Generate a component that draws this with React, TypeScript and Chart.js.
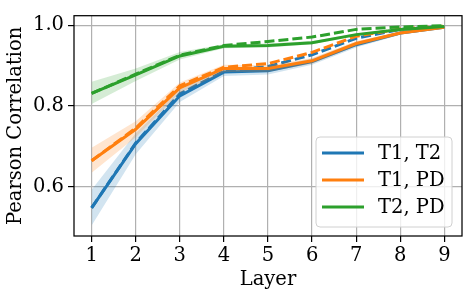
import React, { useEffect, useRef } from "react";
import { Chart, registerables } from "chart.js";

Chart.register(...registerables);

const layers = [1, 2, 3, 4, 5, 6, 7, 8, 9];
const yTicks = [0.6, 0.8, 1.0];

const t1t2Mean = [0.547, 0.706, 0.825, 0.884, 0.887, 0.910, 0.952, 0.981, 0.995];
const t1t2Lower = [0.503, 0.680, 0.810, 0.874, 0.878, 0.902, 0.945, 0.977, 0.993];
const t1t2Upper = [0.592, 0.732, 0.840, 0.894, 0.896, 0.918, 0.959, 0.985, 0.997];
const t1t2Dashed = [0.547, 0.708, 0.830, 0.886, 0.898, 0.927, 0.968, 0.990, 0.998];

const t1pdMean = [0.664, 0.742, 0.845, 0.893, 0.893, 0.912, 0.955, 0.981, 0.995];
const t1pdLower = [0.634, 0.722, 0.832, 0.884, 0.885, 0.905, 0.949, 0.977, 0.993];
const t1pdUpper = [0.696, 0.762, 0.858, 0.902, 0.901, 0.919, 0.961, 0.985, 0.997];
const t1pdDashed = [0.664, 0.745, 0.850, 0.896, 0.905, 0.933, 0.973, 0.991, 0.998];

const t2pdMean = [0.831, 0.877, 0.924, 0.948, 0.950, 0.957, 0.977, 0.990, 0.997];
const t2pdLower = [0.805, 0.862, 0.915, 0.943, 0.945, 0.953, 0.974, 0.988, 0.996];
const t2pdUpper = [0.860, 0.893, 0.934, 0.953, 0.955, 0.961, 0.980, 0.992, 0.998];
const t2pdDashed = [0.831, 0.879, 0.926, 0.950, 0.960, 0.971, 0.990, 0.996, 0.999];

const seriesLabels = ["T1, T2", "T1, PD", "T2, PD"];
const colors = ["#1f77b4", "#ff7f0e", "#2ca02c"];
const bandColors = ["rgba(31,119,180,0.2)", "rgba(255,127,14,0.2)", "rgba(44,160,44,0.2)"];

const FONT = "'DejaVu Serif', serif";
const FS = 19.5;

const pts = (ys: number[]) => layers.map((x, i) => ({ x, y: ys[i] }));

export default function App() {
  const ref = useRef<HTMLCanvasElement | null>(null);

  useEffect(() => {
    document.body.style.margin = "0";
    const canvas = ref.current;
    if (!canvas) return;

    const means = [t1t2Mean, t1pdMean, t2pdMean];
    const lowers = [t1t2Lower, t1pdLower, t2pdLower];
    const uppers = [t1t2Upper, t1pdUpper, t2pdUpper];
    const dashed = [t1t2Dashed, t1pdDashed, t2pdDashed];

    const datasets: any[] = [];
    for (let i = 0; i < 3; i++) {
      const base = 100 - i * 10;
      datasets.push({
        label: "_lower" + i,
        data: pts(lowers[i]),
        borderWidth: 0,
        pointRadius: 0,
        fill: false,
        order: base + 5,
        borderColor: "rgba(0,0,0,0)",
      });
      datasets.push({
        label: "_upper" + i,
        data: pts(uppers[i]),
        borderWidth: 0,
        pointRadius: 0,
        fill: "-1",
        backgroundColor: bandColors[i],
        borderColor: "rgba(0,0,0,0)",
        order: base + 4,
      });
      datasets.push({
        label: seriesLabels[i],
        data: pts(means[i]),
        borderColor: colors[i],
        borderWidth: 3,
        pointRadius: 0,
        fill: false,
        order: base + 2,
      });
      datasets.push({
        label: "_dashed" + i,
        data: pts(dashed[i]),
        borderColor: colors[i],
        borderWidth: 3,
        borderDash: [10, 4],
        pointRadius: 0,
        fill: false,
        order: base + 1,
      });
    }

    const framePlugin = {
      id: "frame",
      afterDatasetsDraw(chart: any) {
        const { ctx, chartArea: a } = chart;
        ctx.save();
        ctx.strokeStyle = "#000";
        ctx.lineWidth = 1.25;
        ctx.strokeRect(a.left, a.top, a.right - a.left, a.bottom - a.top);
        ctx.restore();
      },
    };

    const legendPlugin = {
      id: "boxLegend",
      afterDraw(chart: any) {
        const { ctx } = chart;
        const x0 = 316, y0 = 137, w = 136, h = 90, r = 4;
        ctx.save();
        ctx.beginPath();
        ctx.moveTo(x0 + r, y0);
        ctx.lineTo(x0 + w - r, y0);
        ctx.quadraticCurveTo(x0 + w, y0, x0 + w, y0 + r);
        ctx.lineTo(x0 + w, y0 + h - r);
        ctx.quadraticCurveTo(x0 + w, y0 + h, x0 + w - r, y0 + h);
        ctx.lineTo(x0 + r, y0 + h);
        ctx.quadraticCurveTo(x0, y0 + h, x0, y0 + h - r);
        ctx.lineTo(x0, y0 + r);
        ctx.quadraticCurveTo(x0, y0, x0 + r, y0);
        ctx.closePath();
        ctx.fillStyle = "rgba(255,255,255,0.8)";
        ctx.fill();
        ctx.strokeStyle = "#d0d0d0";
        ctx.lineWidth = 1;
        ctx.stroke();
        ctx.font = FS + "px " + FONT;
        ctx.textBaseline = "middle";
        ctx.textAlign = "left";
        for (let i = 0; i < seriesLabels.length; i++) {
          const yy = y0 + 16 + i * 27;
          ctx.strokeStyle = colors[i];
          ctx.lineWidth = 3;
          ctx.beginPath();
          ctx.moveTo(322, yy);
          ctx.lineTo(364, yy);
          ctx.stroke();
          ctx.fillStyle = "#000";
          ctx.fillText(seriesLabels[i], 378, yy + 1);
        }
        ctx.restore();
      },
    };

    const chart = new Chart(canvas, {
      type: "line",
      data: { datasets },
      options: {
        animation: false,
        responsive: false,
        maintainAspectRatio: false,
        layout: { padding: { left: 0, right: 9, top: 9, bottom: 0 } },
        plugins: {
          legend: { display: false },
          tooltip: { enabled: false },
        },
        scales: {
          x: {
            type: "linear",
            min: 0.6,
            max: 9.4,
            afterBuildTicks: (s: any) => {
              s.ticks = layers.map((v) => ({ value: v }));
            },
            afterFit: (s: any) => {
              s.height = 61;
            },
            ticks: {
              color: "#000",
              font: { family: FONT, size: FS },
              padding: 2,
              maxRotation: 0,
              autoSkip: false,
              callback: (v: any) => String(v),
            },
            grid: {
              color: "#b0b0b0",
              lineWidth: 1.2,
              tickColor: "#000",
              tickLength: 6,
              tickWidth: 1.2,
            },
            border: { display: false },
            title: {
              display: true,
              text: "Layer",
              color: "#000",
              font: { family: FONT, size: FS },
              padding: { top: 0, bottom: 5 },
            },
          },
          y: {
            type: "linear",
            min: 0.477,
            max: 1.024,
            afterBuildTicks: (s: any) => {
              s.ticks = yTicks.map((v) => ({ value: v }));
            },
            afterFit: (s: any) => {
              s.width = 74;
            },
            ticks: {
              color: "#000",
              font: { family: FONT, size: FS },
              padding: 4,
              autoSkip: false,
              callback: (v: any) => Number(v).toFixed(1),
            },
            grid: {
              color: "#b0b0b0",
              lineWidth: 1.2,
              tickColor: "#000",
              tickLength: 6,
              tickWidth: 1.2,
            },
            border: { display: false },
            title: {
              display: true,
              text: "Pearson Correlation",
              color: "#000",
              font: { family: FONT, size: FS },
              padding: { top: 4, bottom: 0 },
            },
          },
        },
      },
      plugins: [framePlugin, legendPlugin],
    });

    return () => chart.destroy();
  }, []);

  return (
    <div style={{ width: 471, height: 297 }}>
      <canvas ref={ref} width={471} height={297} style={{ display: "block" }} />
    </div>
  );
}
